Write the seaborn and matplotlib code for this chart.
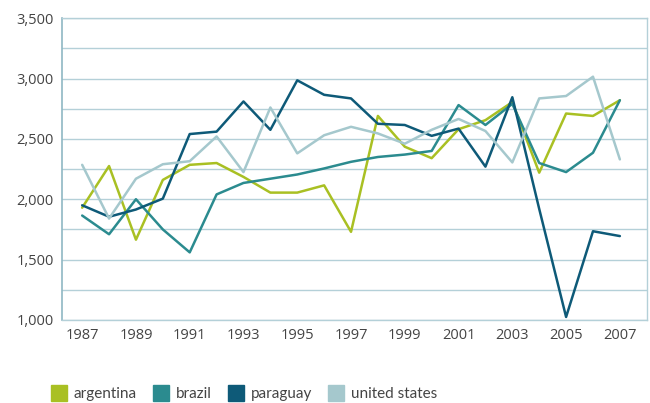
"""Yearly values for four countries, 1987-2007."""

import seaborn as sns
import pandas as pd
import matplotlib.pyplot as plt
from matplotlib.lines import Line2D

years = list(range(1987, 2008))

argentina = [1930, 2275, 1665, 2160, 2285, 2300, 2185, 2055, 2055, 2115, 1730,
             2690, 2435, 2340, 2580, 2655, 2805, 2220, 2710, 2690, 2820]
brazil = [1865, 1710, 2000, 1750, 1560, 2040, 2135, 2170, 2205, 2255, 2310,
          2350, 2370, 2400, 2780, 2615, 2790, 2300, 2225, 2385, 2820]
paraguay = [1950, 1855, 1915, 2005, 2540, 2560, 2810, 2575, 2985, 2865, 2835,
            2625, 2615, 2525, 2585, 2270, 2845, 1920, 1025, 1735, 1695]
united_states = [2285, 1840, 2170, 2290, 2315, 2520, 2225, 2760, 2380, 2530, 2600,
                 2545, 2460, 2575, 2665, 2565, 2305, 2835, 2855, 3015, 2330]

countries = ["argentina", "brazil", "paraguay", "united states"]
colors = ["#a9c023", "#2b8b8f", "#0e5a78", "#a5c8cd"]

df = pd.DataFrame({"year": years, "argentina": argentina, "brazil": brazil,
                   "paraguay": paraguay, "united states": united_states})
long = df.melt(id_vars="year", var_name="country", value_name="value")

sns.set_style("white")
plt.rcParams["font.family"] = ["Open Sans", "DejaVu Sans"]

fig = plt.figure(figsize=(6.5, 4.03), dpi=100)
ax = fig.add_axes([0.0954, 0.206, 0.8996, 0.749])

sns.lineplot(data=long, x="year", y="value", hue="country", hue_order=countries,
             palette=colors, linewidth=1.8, ax=ax, legend=False)

grid_c = "#b4d0d8"
ax.set_xlim(1986.25, 2008.0)
ax.set_ylim(1000, 3500)
ax.set_yticks(range(1000, 3501, 250))
ax.set_yticklabels([f"{v:,}" if v % 500 == 0 else "" for v in range(1000, 3501, 250)])
ax.set_xticks(range(1987, 2008, 2))
ax.yaxis.grid(True, color=grid_c, linewidth=1)
ax.set_axisbelow(True)
ax.tick_params(length=0, labelsize=10.5, colors="#444444", pad=6)
ax.set_xlabel("")
ax.set_ylabel("")
for side in ["right", "top", "bottom"]:
    ax.spines[side].set_color(grid_c)
    ax.spines[side].set_linewidth(1)
ax.spines["left"].set_color("#8fb7c3")
ax.spines["left"].set_linewidth(1.2)

handles = [Line2D([], [], marker="s", linestyle="", markersize=11, color=c) for c in colors]
fig.legend(handles, countries, loc="lower left", bbox_to_anchor=(0.058, -0.03),
           ncol=4, frameon=False, handlelength=1.0, handletextpad=0.45,
           columnspacing=1.1, labelcolor="#444444",
           prop={"family": ["Lato", "DejaVu Sans"], "size": 11})

fig.savefig("out.png", dpi=100)
